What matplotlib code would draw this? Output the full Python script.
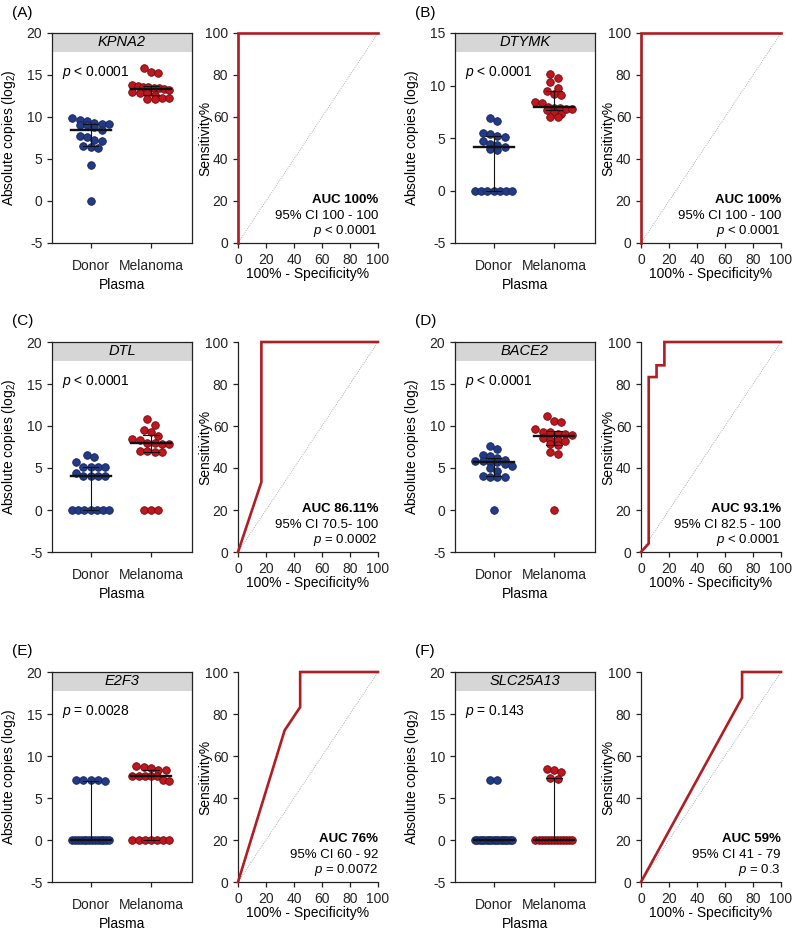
import numpy as np
import matplotlib.pyplot as plt

plt.rcParams['font.family'] = 'Liberation Sans'
plt.rcParams['mathtext.fontset'] = 'custom'
plt.rcParams['mathtext.rm'] = 'Liberation Sans'
plt.rcParams['mathtext.it'] = 'Liberation Sans:italic'
plt.rcParams['mathtext.bf'] = 'Liberation Sans:bold'
plt.rcParams['axes.unicode_minus'] = False

# data
genes = ["KPNA2", "DTYMK", "DTL", "BACE2", "E2F3", "SLC25A13"]
letters = ["(A)", "(B)", "(C)", "(D)", "(E)", "(F)"]
groups = ["Donor", "Melanoma"]

kpna2_donor = [9.9, 9.6, 9.5, 9.3, 9.2, 9.2, 9.1, 9.0, 8.8, 8.5, 7.7, 7.6, 7.3, 7.1, 6.6, 6.4, 6.3, 4.3, 0.0]
kpna2_mel = [15.8, 15.4, 15.2, 13.8, 13.7, 13.6, 13.6, 13.5, 13.4, 13.3, 13.2, 13.0, 12.9, 12.8, 12.6, 12.3, 12.3, 12.2, 12.1]
dtymk_donor = [6.9, 6.6, 5.5, 5.4, 5.2, 5.1, 4.7, 4.4, 4.3, 4.1, 4.0, 3.9, 0, 0, 0, 0, 0, 0, 0]
dtymk_mel = [11.1, 10.7, 10.3, 9.8, 9.5, 9.2, 9.1, 8.4, 8.3, 8.0, 7.9, 7.9, 7.8, 7.8, 7.7, 7.5, 7.3, 7.0, 7.0]
dtl_donor = [6.6, 6.3, 5.7, 5.1, 5.1, 5.1, 5.1, 4.4, 4.1, 4.0, 4.0, 4.0, 0, 0, 0, 0, 0, 0, 0]
dtl_mel = [10.8, 10.1, 9.5, 9.3, 8.8, 8.4, 8.3, 8.0, 8.0, 7.9, 7.8, 7.0, 7.0, 6.9, 6.9, 0, 0, 0]
bace2_donor = [7.6, 7.3, 6.6, 6.4, 6.2, 5.9, 5.8, 5.8, 5.7, 5.7, 5.5, 5.2, 5.0, 4.7, 4.0, 3.9, 3.9, 3.9, 0]
bace2_mel = [11.2, 10.6, 10.5, 9.6, 9.3, 9.3, 9.1, 9.0, 8.9, 8.6, 8.3, 8.3, 8.2, 7.8, 7.7, 6.9, 6.7, 0]
e2f3_donor = [7.2, 7.2, 7.1, 7.1, 7.0] + [0] * 14
e2f3_mel = [8.8, 8.7, 8.6, 8.3, 8.3, 7.6, 7.6, 7.6, 7.6, 7.6, 7.1, 7.0] + [0] * 7
slc_donor = [7.2, 7.1] + [0] * 17
slc_mel = [8.5, 8.3, 8.1, 7.4, 7.3] + [0] * 13

donor_vals = [kpna2_donor, dtymk_donor, dtl_donor, bace2_donor, e2f3_donor, slc_donor]
mel_vals = [kpna2_mel, dtymk_mel, dtl_mel, bace2_mel, e2f3_mel, slc_mel]
y_tops = [20, 15, 20, 20, 20, 20]
group_p = ["$p$ < 0.0001", "$p$ < 0.0001", "$p$ < 0.0001", "$p$ < 0.0001", "$p$ = 0.0028", "$p$ = 0.143"]

# ROC curves (100% - specificity, sensitivity)
roc_fpr = [[0, 0, 100], [0, 0, 100], [0, 16.7, 16.7, 100],
           [0, 5.5, 5.5, 11.1, 11.1, 16.7, 16.7, 100],
           [0, 33.3, 44.4, 44.4, 100], [0, 72.2, 72.2, 100]]
roc_tpr = [[0, 100, 100], [0, 100, 100], [0, 33.3, 100, 100],
           [0, 4, 83.3, 83.3, 88.9, 88.9, 100, 100],
           [0, 72.2, 83.3, 100, 100], [0, 87.8, 100, 100]]
auc_text = ["AUC 100%", "AUC 100%", "AUC 86.11%", "AUC 93.1%", "AUC 76%", "AUC 59%"]
ci_text = ["95% CI 100 - 100", "95% CI 100 - 100", "95% CI 70.5- 100",
           "95% CI 82.5 - 100", "95% CI 60 - 92", "95% CI 41 - 79"]
roc_p = ["$p$ < 0.0001", "$p$ < 0.0001", "$p$ = 0.0002", "$p$ < 0.0001", "$p$ = 0.0072", "$p$ = 0.3"]

DONOR_FC, DONOR_EC = '#233b86', '#16245a'
MEL_FC, MEL_EC = '#c0161f', '#6e0b10'
ROC_RED = '#b01d23'

W, H = 793, 931
fig = plt.figure(figsize=(W / 100, H / 100), dpi=100)

col_sc = [52, 455]
col_roc = [238, 641]
row_top = [33, 342, 672]
AW, AH = 140, 210
XLIM = (-0.64, 1.68)


def row_offsets(vals, px_x, px_y, diam=7.4, max_half=18.5):
    # GraphPad-like: points within one dot height share a row, row is centred
    vals = np.asarray(vals, float)
    offs = np.zeros(len(vals))
    order = np.argsort(-vals, kind='stable')
    rows = []
    for i in order:
        if rows and (vals[rows[-1][0]] - vals[i]) * px_y < diam * 0.9:
            rows[-1].append(i)
        else:
            rows.append([i])
    for row in rows:
        n = len(row)
        if n == 1:
            continue
        step = min(diam, 2 * max_half / (n - 1))
        for j, i in enumerate(row):
            offs[i] = (j - (n - 1) / 2) * step
    return offs / px_x


def style_spines(ax, lw=0.9):
    for s in ax.spines.values():
        s.set_linewidth(lw)
        s.set_color('#222222')
    ax.tick_params(direction='out', length=3.5, width=0.9, labelsize=10, colors='#222222')


for k in range(6):
    r, c = divmod(k, 2)
    top = row_top[r]
    # scatter panel
    ax = fig.add_axes([col_sc[c] / W, 1 - (top + AH) / H, AW / W, AH / H])
    ytop = y_tops[k]
    ax.set_xlim(*XLIM)
    ax.set_ylim(-5, ytop)
    px_x = AW / (XLIM[1] - XLIM[0])
    px_y = AH / (ytop + 5)
    for g, (vals, fc, ec) in enumerate([(donor_vals[k], DONOR_FC, DONOR_EC),
                                        (mel_vals[k], MEL_FC, MEL_EC)]):
        vals = np.asarray(vals, float)
        xs = g + row_offsets(vals, px_x, px_y)
        ax.scatter(xs, vals, s=30, facecolor=fc, edgecolor=ec, linewidth=0.6, zorder=3, clip_on=False)
        med = np.median(vals)
        q1, q3 = np.percentile(vals, [25, 75], method='weibull')
        ax.plot([g - 0.33, g + 0.33], [med, med], color='#111111', lw=1.7, zorder=5)
        ax.plot([g, g], [q1, q3], color='#111111', lw=0.8, zorder=4)
        for q in (q1, q3):
            ax.plot([g - 0.13, g + 0.13], [q, q], color='#111111', lw=0.8, zorder=4)
    ax.set_xticks([0, 1])
    ax.set_xticklabels(groups)
    ax.set_yticks(np.arange(-5, ytop + 1, 5))
    style_spines(ax)
    ax.tick_params(axis='x', pad=8)
    ax.set_xlabel("Plasma", fontsize=10)
    ax.xaxis.set_label_coords(0.5, -0.165)
    ax.set_ylabel("Absolute copies (log$_2$)", fontsize=10)
    ax.yaxis.set_label_coords(-0.24, 0.5)
    ax.axhspan(ytop - 0.09 * (ytop + 5), ytop, color='#d6d6d6', zorder=1, lw=0)
    ax.text(0.5, 0.955, genes[k], transform=ax.transAxes, ha='center', va='center',
            fontsize=10.5, style='italic', zorder=6)
    ax.text(0.07, 0.81, group_p[k], transform=ax.transAxes, ha='left', va='center', fontsize=10)
    fig.text((col_sc[c] - 40) / W, 1 - (top - 20.5) / H, letters[k], fontsize=11, ha='left', va='center')

    # ROC panel
    ax2 = fig.add_axes([col_roc[c] / W, 1 - (top + AH) / H, AW / W, AH / H])
    ax2.set_xlim(0, 100)
    ax2.set_ylim(0, 100)
    ax2.plot([0, 100], [0, 100], ls=(0, (1, 1.5)), color='#9a9a9a', lw=0.6, zorder=2)
    ax2.plot(roc_fpr[k], roc_tpr[k], color=ROC_RED, lw=1.9, zorder=3, clip_on=False,
             solid_joinstyle='miter')
    ax2.spines['top'].set_visible(False)
    ax2.spines['right'].set_visible(False)
    style_spines(ax2)
    ax2.set_xticks(range(0, 101, 20))
    ax2.set_yticks(range(0, 101, 20))
    ax2.set_xlabel("100% - Specificity%", fontsize=10)
    ax2.xaxis.set_label_coords(0.5, -0.112)
    ax2.set_ylabel("Sensitivity%", fontsize=10)
    ax2.yaxis.set_label_coords(-0.185, 0.5)
    ax2.text(100, 20.3, auc_text[k], ha='right', va='center', fontsize=9.5, fontweight='bold')
    ax2.text(100, 12.9, ci_text[k], ha='right', va='center', fontsize=9.5)
    ax2.text(100, 5.5, roc_p[k], ha='right', va='center', fontsize=9.5)

fig.savefig("out.png", dpi=100)
